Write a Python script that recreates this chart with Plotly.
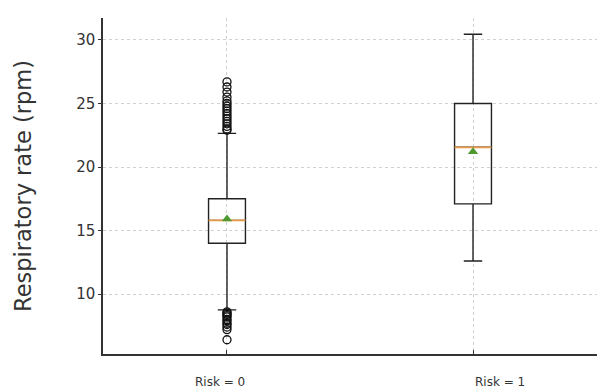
import plotly.graph_objects as go

# ---- data ----
groups = ["Risk = 0", "Risk = 1"]
positions = [0, 1]
q1 = [14.0, 17.1]
median = [15.8, 21.55]
q3 = [17.5, 25.0]
lower_fence = [8.75, 12.6]
upper_fence = [22.65, 30.45]
mean = [15.9, 21.2]
outliers_risk0 = [22.9, 23.0, 23.2, 23.4, 23.6, 23.8, 24.0, 24.2, 24.4, 24.6, 24.8,
                  25.0, 25.2, 25.5, 25.9, 26.3, 26.7,
                  8.6, 8.5, 8.4, 8.3, 8.2, 8.0, 7.9, 7.7, 7.6, 7.4, 7.2, 6.4]
outliers_risk1 = []
y_ticks = [10, 15, 20, 25, 30]

box_width = 0.15
line_col = "#222222"
median_col = "#e89a4a"
mean_col = "#4e9a2f"

fig = go.Figure()
for i, (p, name) in enumerate(zip(positions, groups)):
    fig.add_trace(go.Box(
        x=[p], q1=[q1[i]], median=[median[i]], q3=[q3[i]],
        lowerfence=[lower_fence[i]], upperfence=[upper_fence[i]],
        width=box_width, whiskerwidth=0.5,
        line=dict(color=line_col, width=1.4),
        fillcolor="rgba(0,0,0,0)", boxpoints=False, showlegend=False,
        hoverinfo="skip", name=name,
    ))
    # median line
    fig.add_trace(go.Scatter(
        x=[p - box_width / 2, p + box_width / 2], y=[median[i], median[i]],
        mode="lines", line=dict(color=median_col, width=1.8),
        showlegend=False, hoverinfo="skip",
    ))

# outliers
for p, outs in zip(positions, [outliers_risk0, outliers_risk1]):
    if outs:
        fig.add_trace(go.Scatter(
            x=[p] * len(outs), y=outs, mode="markers",
            marker=dict(symbol="circle-open", size=8, color="#111111",
                        line=dict(width=1.3, color="#111111")),
            showlegend=False, hoverinfo="skip",
        ))

# means
fig.add_trace(go.Scatter(
    x=positions, y=mean, mode="markers",
    marker=dict(symbol="triangle-up", size=9, color=mean_col),
    showlegend=False, hoverinfo="skip",
))

# category labels (placed like the reference)
label_offsets = [-0.03, 1.11]
for name, xo in zip(groups, label_offsets):
    fig.add_annotation(x=xo, y=0, xref="x", yref="paper", text=name,
                       showarrow=False, yanchor="middle", yshift=-28,
                       font=dict(size=12, color="#333333"))

grid_col = "#d0d0d0"
fig.update_layout(
    width=603, height=388,
    margin=dict(l=103, r=6, t=18, b=34),
    plot_bgcolor="white", paper_bgcolor="white",
    font=dict(family="DejaVu Sans", color="#333333"),
    xaxis=dict(
        range=[-0.504, 1.504], tickvals=positions, showticklabels=False,
        ticks="inside", ticklen=4, tickcolor="#333333",
        showline=True, linecolor="#333333", linewidth=1.5,
        showgrid=True, gridcolor=grid_col, griddash="dot", gridwidth=1,
        zeroline=False,
    ),
    yaxis=dict(
        range=[5.28, 31.73], tickvals=y_ticks,
        ticks="outside", ticklen=3, tickcolor="#333333",
        tickfont=dict(size=15, color="#333333"),
        showline=True, linecolor="#333333", linewidth=1.5,
        showgrid=True, gridcolor=grid_col, griddash="dot", gridwidth=1,
        zeroline=False, automargin=False,
        title=dict(text="Respiratory rate (rpm)", font=dict(size=22.5, color="#333333"),
                   standoff=38),
    ),
)

fig.write_html("out.html", config={"displayModeBar": False},
               post_script="document.body.style.margin='0';document.body.style.overflow='hidden';")
